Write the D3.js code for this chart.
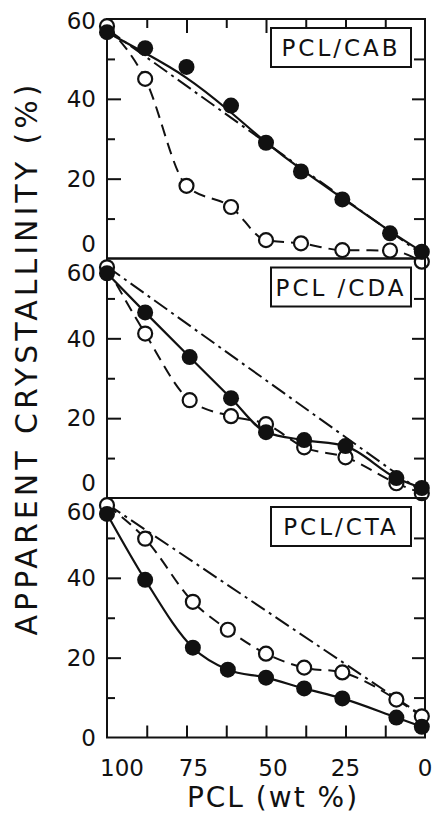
<!DOCTYPE html>
<html>
<head>
<meta charset="utf-8">
<script src="https://cdn.jsdelivr.net/npm/d3@7"></script>
<style>
  body { margin: 0; background: #fff; }
  text { font-family: "DejaVu Sans", sans-serif; fill: #111; }
</style>
</head>
<body>
<div id="chart"></div>
<script>
// PCL content (wt %) and apparent crystallinity (%)
const cabPcl = [100, 88, 75, 61, 50, 39, 26, 11, 1];
const cabFilled = [56.7, 52.7, 48, 38.3, 29, 21.8, 14.8, 6.3, 1.7];
const cabOpen = [58.2, 45, 18.2, 12.9, 4.6, 3.8, 2.1, 2.0, -0.8];
const cabAdditive = [[100, 57.5], [0, 0.5]];

const cdaPcl = [100, 88, 74, 61, 50, 38, 25, 9, 1];
const cdaFilled = [56.3, 46.5, 35.3, 25, 16.5, 14.5, 13, 5, 2.5];
const cdaOpen = [57.8, 41.2, 24.5, 20.5, 18.5, 12.7, 10.2, 3.7, 1.2];
const cdaAdditive = [[100, 58], [0, 1]];

const ctaPcl = [100, 88, 73, 62, 50, 38, 26, 9, 1];
const ctaFilled = [56, 39.5, 22.5, 17, 15, 12.3, 9.8, 5, 2.7];
const ctaOpen = [58.2, 49.8, 34, 27, 21, 17.5, 16.3, 9.5, 5.3];
const ctaAdditive = [[100, 58.5], [0, 5]];

const panelNames = ['PCL/CAB', 'PCL /CDA', 'PCL/CTA'];
const xTickLabels = [100, 75, 50, 25, 0];
const xTickMarks = [87.5, 75, 62.5, 50, 37.5, 25, 12.5];
const yTickLabels = [0, 20, 40, 60];
const yMinorTicks = [10, 30, 50];
const yMajorTicks = [20, 40];

const panels = [
    { name: panelNames[0], pcl: cabPcl, filled: cabFilled, open: cabOpen, additive: cabAdditive, solidCurve: d3.curveBundle.beta(0.55) },
    { name: panelNames[1], pcl: cdaPcl, filled: cdaFilled, open: cdaOpen, additive: cdaAdditive, solidCurve: d3.curveMonotoneX },
    { name: panelNames[2], pcl: ctaPcl, filled: ctaFilled, open: ctaOpen, additive: ctaAdditive, solidCurve: d3.curveMonotoneX }
];

const W = 435, H = 816;
const left = 107, right = 425;
const top0 = 19, panelH = 239.5;

const svg = d3.select('#chart').append('svg')
    .attr('width', W)
    .attr('height', H);

svg.append('rect').attr('width', W).attr('height', H).attr('fill', '#fff');

const x = d3.scaleLinear().domain([100, 0]).range([left, right]);

panels.forEach((p, i) => {
    const top = top0 + i * panelH;
    const y = d3.scaleLinear().domain([0, 60]).range([top + panelH, top]);
    const g = svg.append('g');

    // inward ticks on left and right
    const tickGroup = (axis, tx) => {
        const a = g.append('g').attr('transform', `translate(${tx},0)`).call(axis);
        a.select('.domain').remove();
        a.selectAll('line').attr('stroke', '#111').attr('stroke-width', 2);
        a.selectAll('text').remove();
    };
    tickGroup(d3.axisRight(y).tickValues(yMajorTicks).tickSize(14), left);
    tickGroup(d3.axisRight(y).tickValues(yMinorTicks).tickSize(8), left);
    tickGroup(d3.axisLeft(y).tickValues(yMajorTicks).tickSize(13), right);
    tickGroup(d3.axisLeft(y).tickValues(yMinorTicks).tickSize(11), right);

    if (i === 0) {
        const a = g.append('g').attr('transform', `translate(0,${top})`)
            .call(d3.axisBottom(x).tickValues(xTickMarks).tickSize(1).tickFormat(''));
        a.select('.domain').remove();
        a.selectAll('line')
            .attr('y2', d => d % 25 === 0 ? 14 : 9)
            .attr('stroke', '#111').attr('stroke-width', 2);
    }
    if (i === panels.length - 1) {
        const a = g.append('g').attr('transform', `translate(0,${top + panelH})`)
            .call(d3.axisTop(x).tickValues(xTickMarks).tickSize(12).tickFormat(''));
        a.select('.domain').remove();
        a.selectAll('line').attr('stroke', '#111').attr('stroke-width', 2);
    }

    // frame
    g.append('rect')
        .attr('x', left).attr('y', top)
        .attr('width', right - left).attr('height', panelH)
        .attr('fill', 'none').attr('stroke', '#111').attr('stroke-width', 2);

    // y tick labels (0 and 60 nudged apart where panels meet)
    g.selectAll('.ylab')
        .data(yTickLabels)
        .enter().append('text')
        .attr('x', 96)
        .attr('y', d => {
            let yy = y(d);
            if (d === 0 && i < panels.length - 1) yy -= 15;
            if (d === 60 && i > 0) yy += 14;
            if (d === 60 && i === 0) yy += 2;
            return yy;
        })
        .attr('dy', '0.36em')
        .attr('text-anchor', 'end')
        .style('font-size', '23px')
        .text(d => d);

    const pts = key => p.pcl.map((v, k) => [v, p[key][k]]);
    const line = curve => d3.line().x(d => x(d[0])).y(d => y(d[1])).curve(curve);

    // additivity line (dash-dot)
    g.append('path')
        .attr('d', line(d3.curveLinear)(p.additive))
        .attr('fill', 'none').attr('stroke', '#111').attr('stroke-width', 2)
        .attr('stroke-dasharray', '16,5,3,5');

    // open symbols: dashed
    g.append('path')
        .attr('d', line(d3.curveMonotoneX)(pts('open')))
        .attr('fill', 'none').attr('stroke', '#111').attr('stroke-width', 2)
        .attr('stroke-dasharray', '12,7');

    // filled symbols: solid
    g.append('path')
        .attr('d', line(p.solidCurve)(pts('filled')))
        .attr('fill', 'none').attr('stroke', '#111').attr('stroke-width', 2.2);

    g.selectAll('.open')
        .data(pts('open'))
        .enter().append('circle')
        .attr('cx', d => x(d[0])).attr('cy', d => y(d[1]))
        .attr('r', 7)
        .attr('fill', '#fff').attr('stroke', '#111').attr('stroke-width', 2.2);

    g.selectAll('.filled')
        .data(pts('filled'))
        .enter().append('circle')
        .attr('cx', d => x(d[0])).attr('cy', d => y(d[1]))
        .attr('r', 8)
        .attr('fill', '#111');

    // panel label box
    const lg = g.append('g').attr('transform', `translate(271,${top + 9})`);
    lg.append('rect')
        .attr('width', 140).attr('height', 39)
        .attr('fill', '#fff').attr('stroke', '#111').attr('stroke-width', 2);
    lg.append('text')
        .attr('x', 70).attr('y', 20)
        .attr('dy', '0.36em')
        .attr('text-anchor', 'middle')
        .style('font-size', '23px')
        .style('letter-spacing', '3px')
        .text(p.name);
});

// x tick labels
const bottom = top0 + panels.length * panelH;
svg.selectAll('.xlab')
    .data(xTickLabels)
    .enter().append('text')
    .attr('x', d => x(d) + (d === 100 ? 15 : (d === 75 || d === 50 ? 7 : 0)))
    .attr('y', bottom + 38)
    .attr('text-anchor', 'middle')
    .style('font-size', '23px')
    .text(d => d);

// axis titles
svg.append('text')
    .attr('x', 273).attr('y', 807)
    .attr('text-anchor', 'middle')
    .style('font-size', '28px')
    .style('letter-spacing', '2px')
    .text('PCL (wt %)');

svg.append('text')
    .attr('transform', 'translate(37,358) rotate(-90)')
    .attr('text-anchor', 'middle')
    .style('font-size', '30px')
    .style('letter-spacing', '4px')
    .text('APPARENT CRYSTALLINITY (%)');
</script>
</body>
</html>
